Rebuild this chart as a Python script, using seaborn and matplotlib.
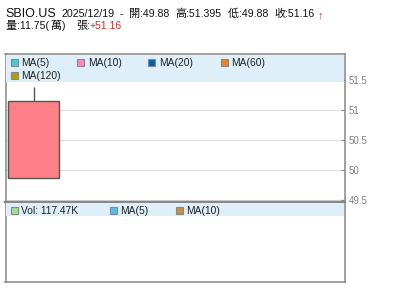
import matplotlib
matplotlib.use("Agg")
import matplotlib.pyplot as plt
import seaborn as sns
import pandas as pd
from matplotlib.patches import Rectangle

# ---- data ----
ticker = "SBIO.US"
trade_date = "2025/12/19"
open_p = [49.88]
high_p = [51.395]
low_p = [49.88]
close_p = [51.16]
vol_wan = "11.75"
change_txt = "+51.16"
price_ticks = [49.5, 50, 50.5, 51, 51.5]
price_tick_labels = ["49.5", "50", "50.5", "51", "51.5"]
ma_labels = ["MA(5)", "MA(10)", "MA(20)", "MA(60)", "MA(120)"]
ma_colors = ["#40D0D0", "#FF88BB", "#0060B0", "#F08020", "#B0A000"]
vol_labels = ["Vol: 117.47K", "MA(5)", "MA(10)"]
vol_colors = ["#A0E090", "#50C0F0", "#C89040"]

df = pd.DataFrame({"x": [0], "open": open_p, "high": high_p, "low": low_p, "close": close_p})

sns.set_style("white")
plt.rcParams["font.family"] = ["Liberation Sans", "Noto Sans CJK TC", "DejaVu Sans"]
CJK = ["Noto Sans CJK TC", "DejaVu Sans"]

W, H = 400, 301
fig = plt.figure(figsize=(W / 100, H / 100), dpi=100)

def fx(x):
    return x / W

def fy(y):
    return 1 - y / H

GRAY = "#888888"

ax = fig.add_axes([fx(5.5), fy(202), (345 - 5.5) / W, (202 - 54.3) / H])
vax = fig.add_axes([fx(5.5), fy(282), (345 - 5.5) / W, (282 - 202) / H])

# candle
body_bottom = df[["open", "close"]].min(axis=1)
body_h = (df["close"] - df["open"]).abs()
ax.vlines(df["x"], df[["open", "close"]].max(axis=1), df["high"], color="#555555", lw=1, zorder=3)
ax.vlines(df["x"], df["low"], body_bottom, color="#555555", lw=1, zorder=3)
ax.bar(df["x"], body_h, bottom=body_bottom, width=0.75, color="#FF8088",
       edgecolor="#555555", linewidth=1, zorder=4)

ax.set_xlim(-0.412, 4.581)
ax.set_ylim(49.472, 51.933)
ax.set_yticks(price_ticks)
ax.set_yticklabels(price_tick_labels)
ax.tick_params(axis="y", direction="in", length=3, color=GRAY, right=True, left=False,
               labelright=True, labelleft=False, labelsize=7, labelcolor="#808080", pad=2.5)
ax.tick_params(axis="x", bottom=False, labelbottom=False)
ax.grid(axis="y", color="#DDDDDD", lw=0.8)
ax.grid(axis="x", visible=False)
for s in ax.spines.values():
    s.set_color(GRAY)
    s.set_linewidth(1.1)
ax.spines["bottom"].set_linewidth(1.6)

vax.set_xlim(-0.412, 4.581)
vax.set_xticks([])
vax.set_yticks([])
for s in vax.spines.values():
    s.set_color(GRAY)
    s.set_linewidth(1.1)
vax.spines["top"].set_linewidth(1.6)

# legend strips
strip = "#DEEFF9"
fig.add_artist(Rectangle((fx(6), fy(82)), (344 - 6) / W, 27 / H, transform=fig.transFigure,
                         facecolor=strip, edgecolor="none", zorder=5))
fig.add_artist(Rectangle((fx(6), fy(216)), (344 - 6) / W, 13 / H, transform=fig.transFigure,
                         facecolor=strip, edgecolor="none", zorder=5))

def legend_item(xsq, ybase, label, color):
    fig.add_artist(Rectangle((fx(xsq), fy(ybase - 0.5)), 7 / W, 7 / H, transform=fig.transFigure,
                             facecolor=color, edgecolor="#888888", linewidth=0.8, zorder=6))
    fig.text(fx(xsq + 10.5), fy(ybase), label, fontsize=7.4, color="#222222",
             va="baseline", ha="left", zorder=7)

ma_pos = [(10.7, 66.3), (77.3, 66.3), (148.3, 66.3), (220.7, 66.3), (10.7, 79.3)]
for (px, py), lab, col in zip(ma_pos, ma_labels, ma_colors):
    legend_item(px, py, lab, col)

vol_pos = [(10.7, 214.3), (110, 214.3), (175.7, 214.3)]
for (px, py), lab, col in zip(vol_pos, vol_labels, vol_colors):
    legend_item(px, py, lab, col)

# header
tc = "#111111"
b1, b2 = 17.3, 29.3
NUM = 7.6
fig.text(fx(5), fy(b1), ticker, fontsize=9, color=tc, va="baseline")
fig.text(fx(62), fy(b1), trade_date, fontsize=7.7, color=tc, va="baseline")
fig.text(fx(119.5), fy(b1), "-", fontsize=7.7, color=tc, va="baseline")
parts = [(129.3, "開", ":" + f"{open_p[0]:.2f}"), (175.3, "高", ":" + f"{high_p[0]}"),
         (228.3, "低", ":" + f"{low_p[0]:.2f}"), (274.2, "收", ":" + f"{close_p[0]:.2f}")]
for px, ch, t in parts:
    fig.text(fx(px), fy(b1), ch, fontsize=8, color=tc, va="baseline", family=CJK)
    fig.text(fx(px + 10.8), fy(b1), t, fontsize=NUM, color=tc, va="baseline")
fig.text(fx(318), fy(b1 + 1.5), "↑", fontsize=8, color="#EE2222", va="baseline", fontweight="bold")
fig.text(fx(5.5), fy(b2), "量", fontsize=8, color=tc, va="baseline", family=CJK)
fig.text(fx(16.5), fy(b2), ":" + vol_wan + "(", fontsize=NUM, color=tc, va="baseline")
fig.text(fx(50.3), fy(b2), "萬", fontsize=8, color=tc, va="baseline", family=CJK)
fig.text(fx(61.5), fy(b2), ")", fontsize=NUM, color=tc, va="baseline")
fig.text(fx(76.5), fy(b2), "張", fontsize=8, color=tc, va="baseline", family=CJK)
fig.text(fx(87.3), fy(b2), ":", fontsize=NUM, color=tc, va="baseline")
fig.text(fx(89.3), fy(b2), change_txt, fontsize=7.5, color="#EE2222", va="baseline")

fig.savefig("out.png", dpi=100, facecolor="white")
